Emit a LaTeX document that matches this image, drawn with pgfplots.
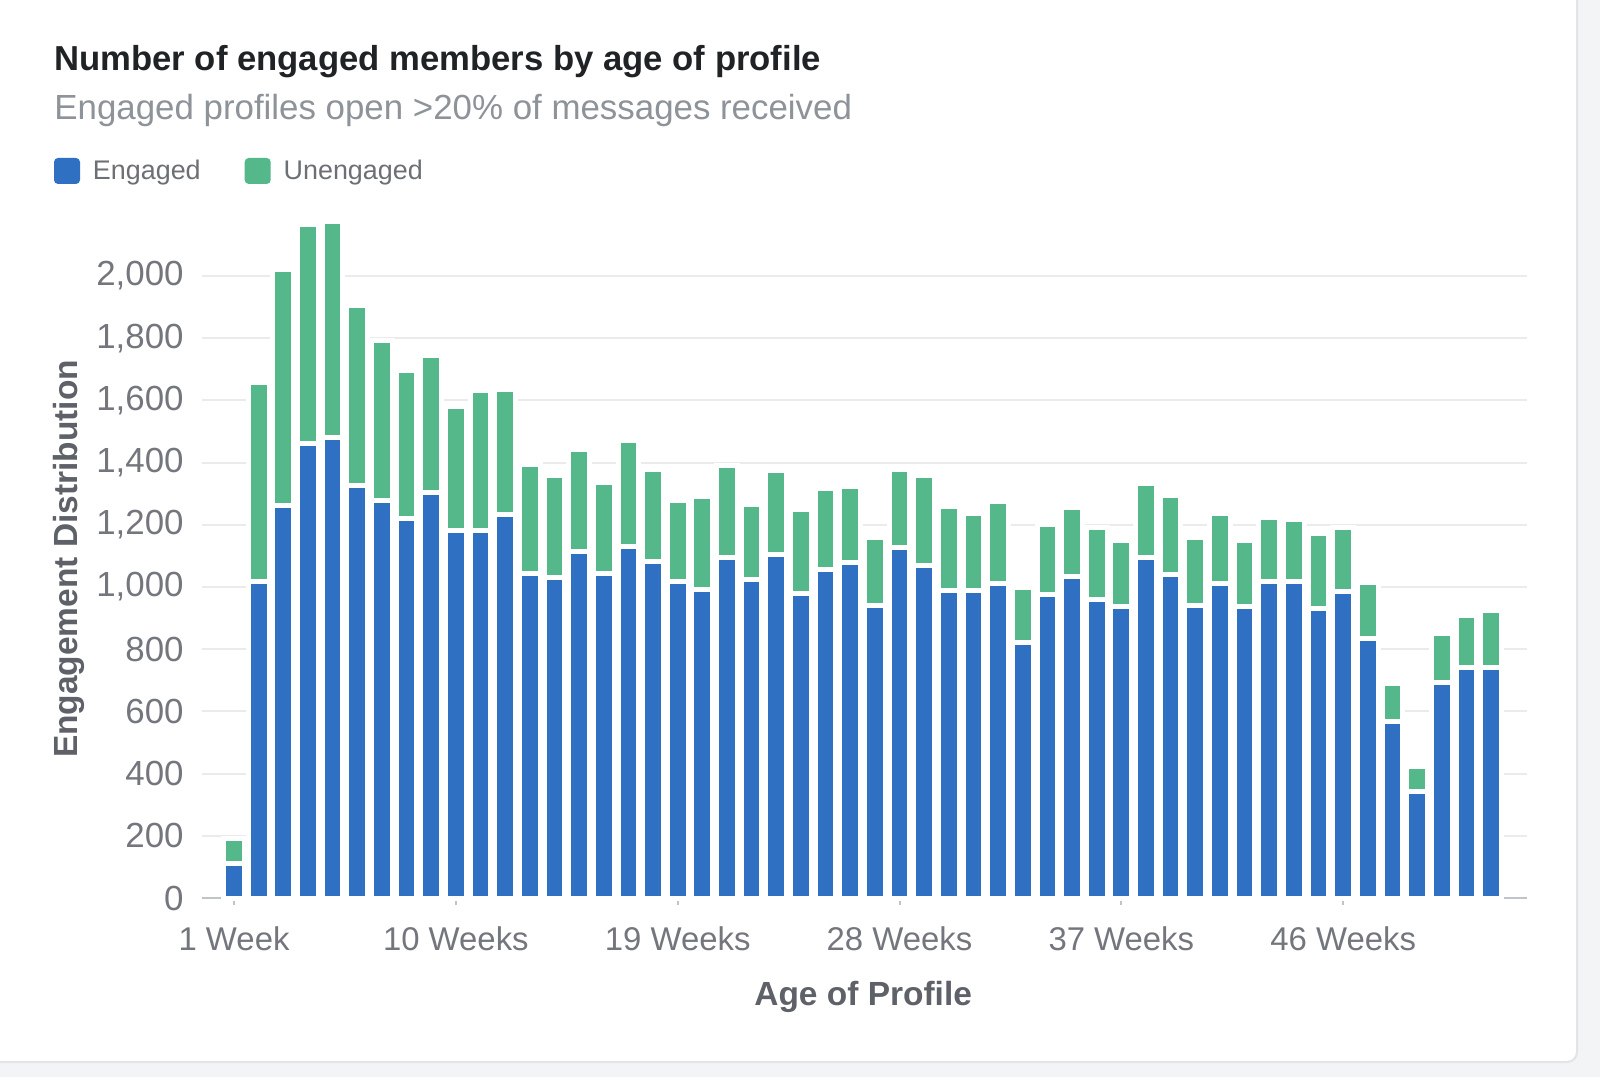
\documentclass[border=0pt]{standalone}
\usepackage{pgfplots}
\pgfplotsset{compat=1.18}
\usepackage{fontspec}
\setmainfont{Liberation Sans}
\definecolor{engblue}{RGB}{47,112,194}
\definecolor{unggreen}{RGB}{84,184,138}
\definecolor{titlecol}{RGB}{32,35,38}
\definecolor{subcol}{RGB}{142,147,153}
\definecolor{legcol}{RGB}{108,112,117}
\definecolor{tickcol}{RGB}{115,119,125}
\definecolor{labcol}{RGB}{94,98,104}
\definecolor{gridcol}{RGB}{235,235,235}
\definecolor{axiscol}{RGB}{192,195,199}
\definecolor{cardborder}{RGB}{226,228,231}
\definecolor{outbg}{RGB}{243,244,246}

\pgfplotstableread{
week engaged unengaged
1 110 82
2 1018 639
3 1261 761
4 1463 702
5 1482 694
6 1327 579
7 1279 515
8 1221 475
9 1304 440
10 1182 400
11 1183 450
12 1233 401
13 1044 350
14 1031 326
15 1114 328
16 1043 293
17 1130 342
18 1082 296
19 1018 260
20 991 299
21 1095 297
22 1025 240
23 1103 273
24 978 270
25 1056 261
26 1079 243
27 940 220
28 1126 252
29 1068 290
30 990 268
31 990 246
32 1012 264
33 820 178
34 977 224
35 1033 224
36 959 232
37 938 210
38 1094 238
39 1041 253
40 941 218
41 1011 225
42 938 213
43 1018 207
44 1019 199
45 932 239
46 984 208
47 835 181
48 568 121
49 344 78
50 692 159
51 741 169
52 741 183
}\datatable

\begin{document}
\begin{tikzpicture}
% page: 1600 x 1077 px  ->  800 x 538.5 bp
\useasboundingbox (0,0) rectangle (800bp,-538.5bp);
\fill[outbg] (0,0) rectangle (800bp,-538.5bp);
\filldraw[fill=white, draw=cardborder, line width=1bp, rounded corners=5bp]
  (-20bp,20bp) rectangle (788.5bp,-531bp);

\node[anchor=base west, inner sep=0pt, text=titlecol,
      font=\fontsize{17.4}{20}\selectfont\bfseries]
  at (27bp,-35bp) {Number of engaged members by age of profile};
\node[anchor=base west, inner sep=0pt, text=subcol,
      font=\fontsize{17.5}{20}\selectfont]
  at (27bp,-59.5bp) {Engaged profiles open >20\% of messages received};

\begin{axis}[
  scale only axis,
  width=662.5bp, height=342.1bp,
  at={(101bp,-449bp)}, anchor=south west,
  ybar stacked,
  bar width=0.84,
  xmin=-0.30, xmax=53.46,
  ymin=0, ymax=2200,
  axis x line=bottom,
  axis y line=left,
  x axis line style={draw=axiscol, line width=1.2bp, -},
  y axis line style={draw=none},
  xtick={1,10,19,28,37,46},
  xticklabels={1 Week,10 Weeks,19 Weeks,28 Weeks,37 Weeks,46 Weeks},
  xtick style={draw=axiscol, line width=1bp},
  tick align=outside,
  major tick length=3.5bp,
  ytick={0,200,...,2000},
  ytick style={draw=none},
  ymajorgrids,
  grid style={draw=gridcol, line width=1bp},
  /pgf/number format/assume math mode=true,
  /pgf/number format/1000 sep={,},
  tick label style={font=\fontsize{16.5}{19}\selectfont, text=tickcol},
  xticklabel style={anchor=base, yshift=-22.5bp},
  yticklabel style={anchor=east, inner sep=0pt, xshift=-5.5bp,
    font=\fontsize{17.5}{19}\selectfont},
  xlabel={Age of Profile},
  ylabel={Engagement Distribution},
  label style={font=\fontsize{16.8}{19}\selectfont\bfseries, text=labcol},
  xlabel style={at={(axis description cs:0.499,-0.1564)}, anchor=base, inner sep=0pt},
  ylabel style={at={(axis description cs:-0.1005,0.4955)}, anchor=center, inner sep=0pt},
  legend columns=2,
  legend style={at={(axis description cs:-0.1117,1.0626)}, anchor=west,
    draw=none, fill=none, inner sep=0pt, outer sep=0pt,
    font=\fontsize{13.5}{16}\selectfont, text=legcol,
    nodes={inner sep=0pt},
    /tikz/every odd column/.append style={column sep=6.5bp},
    /tikz/every even column/.append style={column sep=22bp}},
  clip=false,
]
\addplot+[fill=engblue, draw=white, line width=2.5bp,
  legend image code/.code={\fill[engblue, rounded corners=1bp] (0bp,-5.25bp) rectangle (10.5bp,5.25bp);}]
  table[x=week, y=engaged] {\datatable};
\addlegendentry{Engaged}
\addplot+[fill=unggreen, draw=white, line width=2.5bp,
  legend image code/.code={\fill[unggreen, rounded corners=1bp] (0bp,-5.25bp) rectangle (10.5bp,5.25bp);}]
  table[x=week, y=unengaged] {\datatable};
\addlegendentry{Unengaged}
\end{axis}
\end{tikzpicture}
\end{document}
